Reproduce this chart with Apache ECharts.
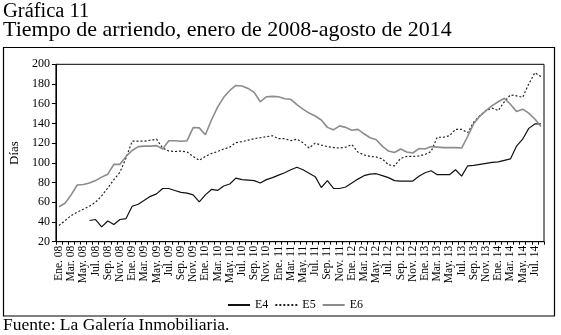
<!DOCTYPE html>
<html><head><meta charset="utf-8">
<script src="https://cdn.jsdelivr.net/npm/echarts/dist/echarts.min.js"></script>
<style>html,body{margin:0;padding:0;background:#fff}#c{width:561px;height:335px}</style>
</head><body><div id="c"></div><script>
var monthNames = ['Ene.','Feb.','Mar.','Abr.','May.','Jun.','Jul.','Ago.','Sep.','Oct.','Nov.','Dic.'];
var years = ['08','09','10','11','12','13','14'];
var categories = [];
years.forEach(function(y){ monthNames.forEach(function(m){ categories.push(m + ' ' + y); }); });
categories = categories.slice(0, 80); // Ene. 08 .. Ago. 14

var yTicks = [20,40,60,80,100,120,140,160,180,200];

var E4 = [null,null,null,null,null,41.5,42.5,35,41,37.5,
  42.5,43.5,56,58,62,66,68.5,74,74,72,
  70,69.3,67.5,60.5,67.5,73,72,76.5,78.5,84.5,
  83,82.5,82,79.5,83,85,87.5,90,93,95.5,
  93,89.5,86,75,82,74,74,75.5,79.5,83.5,
  87,88.5,89,87,85,82,81.5,81.5,81.5,86.5,
  90,92,88,88,88,93,86.5,97,97.5,98.5,
  99.5,100.5,101,102.5,104,117,124,135,139.5,139.5];

var E5 = [36.5,41.5,46.5,50,53,56,60,66.5,74.5,83,
  90.5,105,122,122,122,123,124,115,112,111.5,
  112,111,106.5,102.5,106.5,109.5,111.5,114,116,120.5,
  121.5,123,124.5,125.5,126.5,127.5,124.5,124.5,122.5,124,
  120.5,115,120,118,116.5,115.5,115,116,118.5,111,
  108,106.5,106,104,98,97,104.5,106.5,106.5,107,
  108.5,111.5,126,126,127.5,134,134,130.5,141.5,148,
  153,155.5,153,162,169,168,166.5,180,191.5,187.5];

var E6 = [55.5,59,67.5,77.5,78,79.5,82,85.5,88.5,98.5,
  98.5,106.5,112.5,116.5,117,117,117.5,114,122.5,122.5,
  122,122.5,135.8,135.5,128.5,143.5,156.5,166.5,173.5,178.5,
  178,175.5,171.5,162,167,167.5,167,165,164.5,159,
  154.5,150.5,147.5,143.5,136,133.5,137.5,136,133,134,
  129.5,125.5,123.5,117,112,110.5,114,111,110,114.5,
  114,116.5,116,115.5,115.5,115.5,115,127,140,147.5,
  153,158,162,165.5,159.5,152,154.5,150.5,144.5,137];

var serif = '"Liberation Serif", "DejaVu Serif", serif';
var chart = echarts.init(document.getElementById('c'), null, {renderer:'canvas'});
chart.setOption({
  animation: false,
  backgroundColor: '#fff',
  textStyle: {fontFamily: serif, color: '#000'},
  graphic: [
    {type:'rect', z:-1, shape:{x:3.5, y:47.5, width:551, height:268.5}, style:{fill:'none', stroke:'#000', lineWidth:1.2}},
    {type:'text', left:3, top:1, style:{text:'Gráfica 11', font:'20.5px ' + serif, fill:'#000'}},
    {type:'text', left:3, top:19, style:{text:'Tiempo de arriendo, enero de 2008-agosto de 2014', font:'22px ' + serif, fill:'#000'}},
    {type:'text', left:3, top:316, style:{text:'Fuente: La Galería Inmobiliaria.', font:'17.5px ' + serif, fill:'#000'}}
  ],
  grid: {left:46.7, right:17, top:64.3, bottom:93.3, show:true, borderColor:'#000', borderWidth:1, backgroundColor:'transparent'},
  legend: {
    left: 222, top: 294, itemWidth: 22, itemHeight: 14, itemGap: 6,
    itemStyle: {opacity: 0},
    textStyle: {fontFamily: serif, fontSize: 12, color:'#000'},
    data: ['E4','E5','E6']
  },
  xAxis: {
    type: 'category', data: categories, boundaryGap: true,
    axisLine: {lineStyle:{color:'#000', width:1}},
    axisTick: {show:true, interval:0, length:3, lineStyle:{color:'#000'}},
    axisLabel: {rotate:90, interval:1, margin:4, fontSize:11.5, fontFamily: serif, color:'#000'}
  },
  yAxis: {
    type: 'value', min: yTicks[0], max: yTicks[yTicks.length-1], interval: 20,
    name: 'Días', nameLocation: 'middle', nameGap: 32, nameRotate: 90,
    nameTextStyle: {fontFamily: serif, fontSize: 13, color:'#000'},
    axisLine: {show:true, lineStyle:{color:'#000', width:1}},
    axisTick: {show:true, length:4, lineStyle:{color:'#000'}},
    axisLabel: {margin:6, fontSize:12, fontFamily: serif, color:'#000'},
    splitLine: {show:false}
  },
  series: [
    {name:'E4', type:'line', data:E4, symbol:'none', connectNulls:false,
     lineStyle:{color:'#111', width:1.2}, itemStyle:{color:'#111'}},
    {name:'E5', type:'line', data:E5, symbol:'none',
     lineStyle:{color:'#222', width:1.2, type:[2,2]}, itemStyle:{color:'#222'}},
    {name:'E6', type:'line', data:E6, symbol:'none',
     lineStyle:{color:'#8c8c8c', width:1.6}, itemStyle:{color:'#8c8c8c'}}
  ]
});
</script></body></html>
